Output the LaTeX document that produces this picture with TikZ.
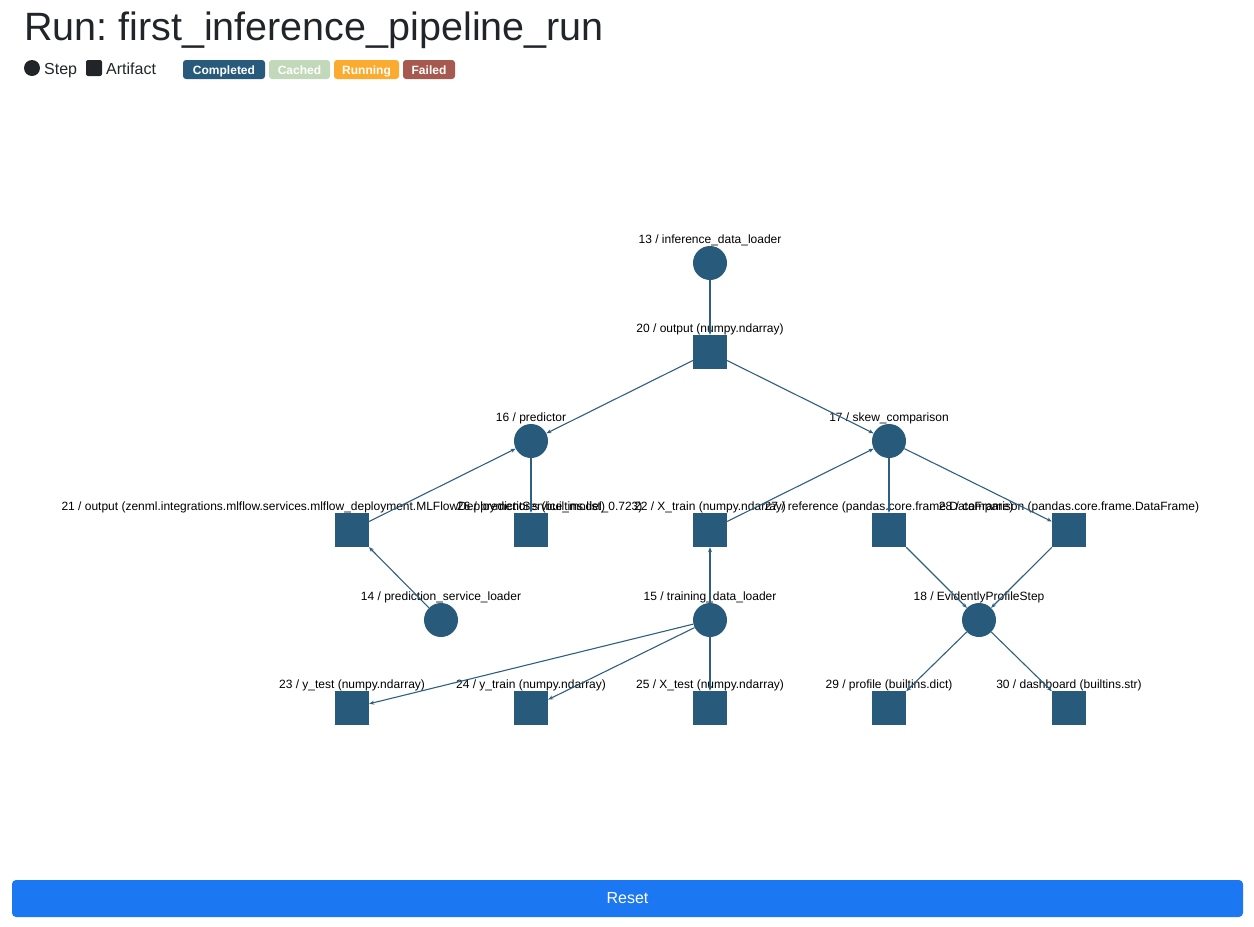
\documentclass[tikz,border=0pt]{standalone}
\usepackage{fontspec}
\setmainfont{Liberation Sans}
\usetikzlibrary{arrows.meta}
\definecolor{stepblue}{HTML}{285A7B}
\definecolor{edgeblue}{HTML}{2F5F80}
\definecolor{darktext}{HTML}{212529}
\definecolor{cachedgreen}{HTML}{C1D9B9}
\definecolor{runorange}{HTML}{FBAB2F}
\definecolor{failedred}{HTML}{A65A4F}
\definecolor{resetblue}{HTML}{1B78F2}
\frenchspacing
\begin{document}
\begin{tikzpicture}[x=1pt, y=-1pt,
  every label/.style={inner sep=0pt, font=\fontsize{12}{14}\selectfont},
  label distance=0pt,
  stepnode/.style={circle, fill=stepblue, minimum size=34pt, inner sep=0pt},
  artnode/.style={rectangle, fill=stepblue, minimum size=34pt, inner sep=0pt},
  flow/.style={draw=edgeblue, line width=1.1pt, -{Stealth[length=5pt, width=4pt]}},
  badge/.style={rounded corners=3pt, text=white, inner sep=0pt, minimum height=19pt,
    text height=9pt, text depth=0pt, font=\fontsize{12}{14}\selectfont\bfseries}]
  \useasboundingbox (0,0) rectangle (1254,927);

  % Draw title and legend
  \node[anchor=base west, inner sep=0pt, text=darktext, font=\fontsize{39.5}{44}\selectfont] (title) at (24,40) {Run: first\_inference\_pipeline\_run};
  \node[circle, fill=darktext, minimum size=16pt, inner sep=0pt] (stepkey) at (32,68) {};
  \node[anchor=base west, inner sep=0pt, text=darktext, font=\fontsize{16}{19}\selectfont] (steptext) at (44,74) {Step};
  \node[rectangle, fill=darktext, rounded corners=2pt, minimum size=16pt, inner sep=0pt] (artkey) at (94,68) {};
  \node[anchor=base west, inner sep=0pt, text=darktext, font=\fontsize{16}{19}\selectfont] (arttext) at (106,74) {Artifact};

  % Draw status badges
  \node[badge, fill=stepblue, minimum width=82pt] (completed) at (224,69.5) {Completed};
  \node[badge, fill=cachedgreen, minimum width=61pt] (cached) at (299.5,69.5) {Cached};
  \node[badge, fill=runorange, minimum width=65pt] (running) at (366.5,69.5) {Running};
  \node[badge, fill=failedred, minimum width=52pt] (failed) at (429,69.5) {Failed};

  % Draw steps
  \node[stepnode, label=above:{13 / inference\_data\_loader}] (n13) at (710,263) {};
  \node[stepnode, label=above:{16 / predictor}] (n16) at (531,441) {};
  \node[stepnode, label=above:{17 / skew\_comparison}] (n17) at (889,441) {};
  \node[stepnode, label=above:{14 / prediction\_service\_loader}] (n14) at (441,620) {};
  \node[stepnode, label=above:{15 / training\_data\_loader}] (n15) at (710,620) {};
  \node[stepnode, label=above:{18 / EvidentlyProfileStep}] (n18) at (979,620) {};

  % Draw artifacts
  \node[artnode, label=above:{20 / output (numpy.ndarray)}] (n20) at (710,352) {};
  \node[artnode, label=above:{21 / output (zenml.integrations.mlflow.services.mlflow\_deployment.MLFlowDeploymentService\_model\_0.723)}] (n21) at (352,530) {};
  \node[artnode, label=above:{26 / predictions (builtins.list)}] (n26) at (531,530) {};
  \node[artnode, label=above:{22 / X\_train (numpy.ndarray)}] (n22) at (710,530) {};
  \node[artnode, label=above:{27 / reference (pandas.core.frame.DataFrame)}] (n27) at (889,530) {};
  \node[artnode, label=above:{28 / comparison (pandas.core.frame.DataFrame)}] (n28) at (1069,530) {};
  \node[artnode, label=above:{23 / y\_test (numpy.ndarray)}] (n23) at (352,708) {};
  \node[artnode, label=above:{24 / y\_train (numpy.ndarray)}] (n24) at (531,708) {};
  \node[artnode, label=above:{25 / X\_test (numpy.ndarray)}] (n25) at (710,708) {};
  \node[artnode, label=above:{29 / profile (builtins.dict)}] (n29) at (889,708) {};
  \node[artnode, label=above:{30 / dashboard (builtins.str)}] (n30) at (1069,708) {};

  % Draw edges
  \draw[flow] (n13) -- (n20);
  \draw[flow] (n20) -- (n16);
  \draw[flow] (n20) -- (n17);
  \draw[flow] (n21) -- (n16);
  \draw[flow] (n14) -- (n21);
  \draw[flow] (n16) -- (n26);
  \draw[flow] (n22) -- (n17);
  \draw[flow] (n15) -- (n22);
  \draw[flow] (n17) -- (n27);
  \draw[flow] (n17) -- (n28);
  \draw[flow] (n27) -- (n18);
  \draw[flow] (n28) -- (n18);
  \draw[flow] (n15) -- (n23);
  \draw[flow] (n15) -- (n24);
  \draw[flow] (n15) -- (n25);
  \draw[flow] (n18) -- (n29);
  \draw[flow] (n18) -- (n30);

  % Draw reset button
  \node[fill=resetblue, rounded corners=4pt, minimum width=1231pt, minimum height=37pt, text=white, font=\fontsize{16}{19}\selectfont] (reset) at (627.5,898.5) {Reset};
\end{tikzpicture}
\end{document}
